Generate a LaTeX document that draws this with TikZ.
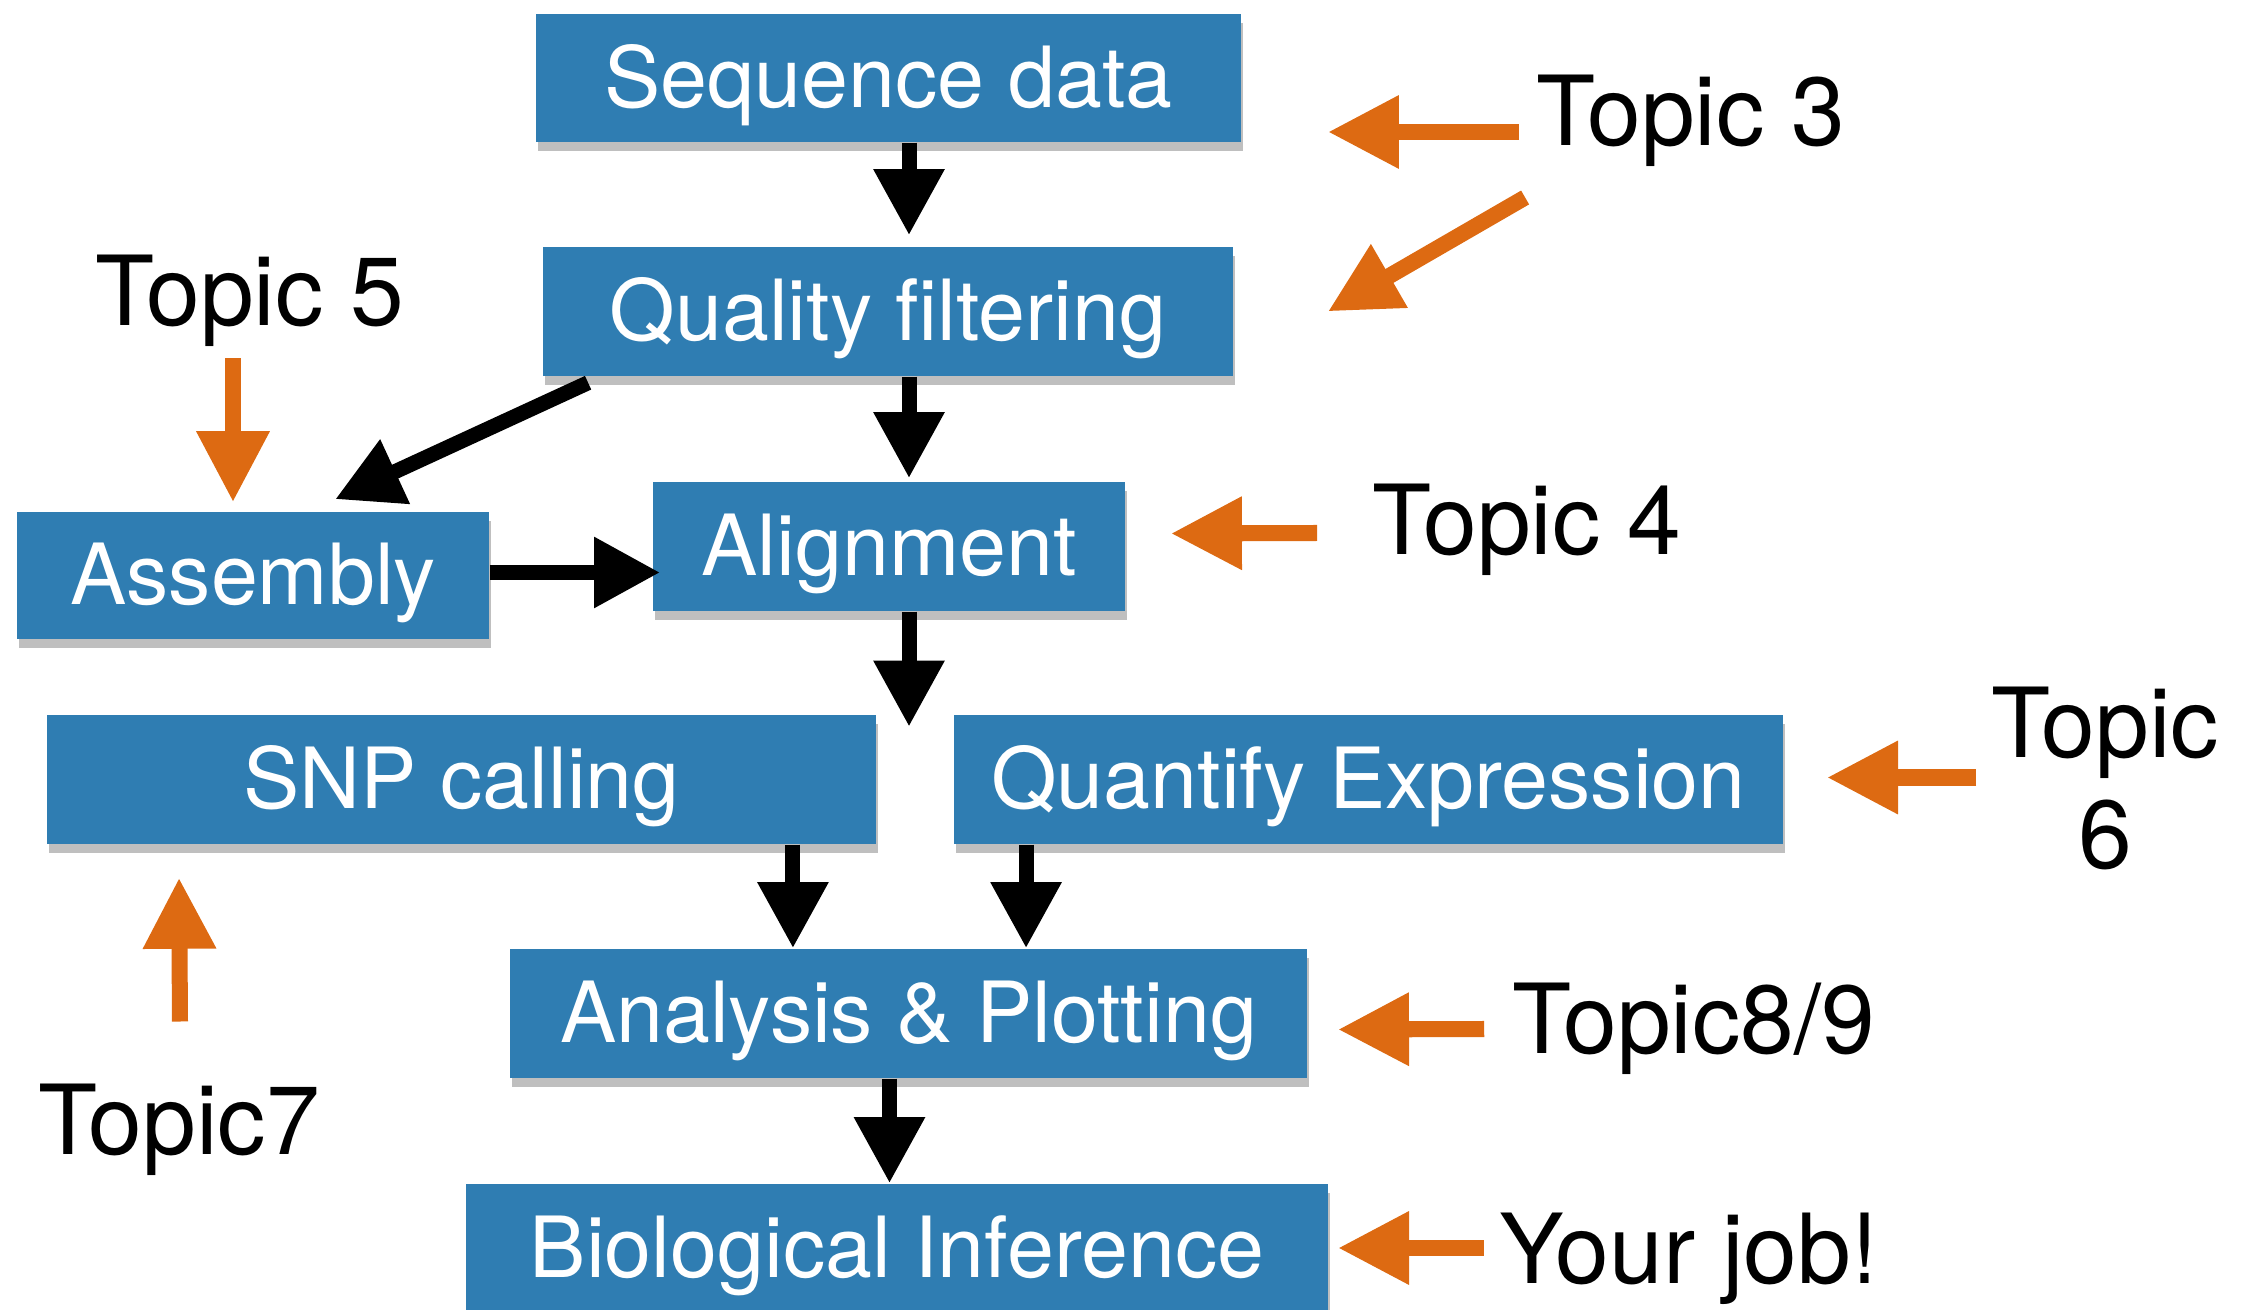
\documentclass[tikz,border=0pt]{standalone}
\usepackage{fontspec}
\setmainfont{TeX Gyre Heros}
\usetikzlibrary{arrows.meta,calc,shadows}
\definecolor{boxblue}{RGB}{47,125,178}
\definecolor{topicorange}{RGB}{221,106,18}
\tikzset{
  stage/.style={rectangle, fill=boxblue, text=white, inner sep=0pt,
    font=\fontsize{24}{28}\selectfont, text height=16.6pt, text depth=0pt,
    drop shadow={shadow xshift=0.6pt, shadow yshift=-2.5pt, opacity=0.25, fill=black}},
  topic/.style={inner sep=0pt, align=center, font=\fontsize{27.5}{31.6}\selectfont},
  flow/.style={line width=0.15cm, -{Triangle[width=0.67cm,length=0.66cm]}},
  pointer/.style={topicorange, line width=0.16cm, -{Triangle[width=0.69cm,length=0.71cm]}},
}
\begin{document}
\begin{tikzpicture}[x=0.01cm,y=-0.01cm]
\useasboundingbox (0,0) rectangle (2242,1310);

% pipeline stages
\node[stage,minimum width=7.05cm,minimum height=1.28cm] (seq) at (888.5,78) {Sequence data};
\node[stage,minimum width=6.9cm,minimum height=1.29cm] (qual) at (888,311.5) {Quality filtering};
\node[stage,minimum width=4.72cm,minimum height=1.27cm] (asm) at (253,575.5) {Assembly};
\node[stage,minimum width=4.72cm,minimum height=1.29cm] (aln) at (889,546.5) {Alignment};
\node[stage,minimum width=8.29cm,minimum height=1.29cm] (snp) at (461.5,779.5) {SNP calling};
\node[stage,minimum width=8.29cm,minimum height=1.29cm] (quant) at (1368.5,779.5) {Quantify Expression};
\node[stage,minimum width=7.97cm,minimum height=1.29cm] (ana) at (908.5,1013.5) {Analysis \& Plotting};
\node[stage,minimum width=8.62cm,minimum height=1.28cm] (bio) at (897,1248) {Biological Inference};

% topic labels
\node[topic] (t3) at (1691,121) {Topic 3};
\node[topic] (t5) at (250,301) {Topic 5};
\node[topic] (t4) at (1527,530) {Topic 4};
\node[topic,anchor=north] (t6) at (2105,686) {Topic\\6};
\node[topic] (t89) at (1694,1029) {Topic8/9};
\node[topic] (t7) at (179,1130) {Topic7};
\node[topic] (tjob) at (1689,1259) {Your job!};

% flow arrows
\coordinate (spine) at (909,0);
\draw[flow] (seq.south -| spine) -- ($(qual.north -| spine)+(0,-11)$);
\draw[flow] (qual.south -| spine) -- ($(aln.north -| spine)+(0,-3)$);
\draw[flow] ($(qual.south west)+(46,6)$) -- ($(asm.north west)+(319,-12)$);
\draw[flow] ($(asm.east)+(0,-3)$) -- ($(asm.east -| aln.west)+(8,-3)$);
\draw[flow] (aln.south -| spine) -- ($(aln.south -| spine)+(0,115)$);
\draw[flow] ($(snp.south east)+(-84,0)$) coordinate (s6) -- (s6 |- ana.north);
\draw[flow] ($(quant.south west)+(73,0)$) coordinate (s7) -- (s7 |- ana.north);
\draw[flow] ($(ana.south)+(-19,0)$) coordinate (s8) -- (s8 |- bio.north);

% topic pointers
\draw[pointer] ($(t3.west)+(-17,11)$) -- ($(seq.east)+(86,54)$);
\draw[pointer] ($(t3.south west)+(-11,30)$) -- ($(qual.east)+(94,0)$);
\draw[pointer] ($(t5.south)+(-17,11)$) -- ($(asm.north)+(-20,-9)$);
\draw[pointer] ($(t4.west)+(-55,3)$) -- ($(aln.east)+(45,-13)$);
\draw[pointer] ($(t6.west |- quant.east)+(-14,-2)$) -- ($(quant.east)+(43,-2)$);
\draw[pointer] ($(t89.west)+(-28,0)$) -- ($(ana.east)+(30,16)$);
\draw[pointer] ($(tjob.west)+(-15,-11)$) -- ($(bio.east)+(9,0)$);
\draw[pointer] ($(t7.north)+(1,-62)$) -- ($(snp.south west)+(133,33)$);
\end{tikzpicture}
\end{document}
